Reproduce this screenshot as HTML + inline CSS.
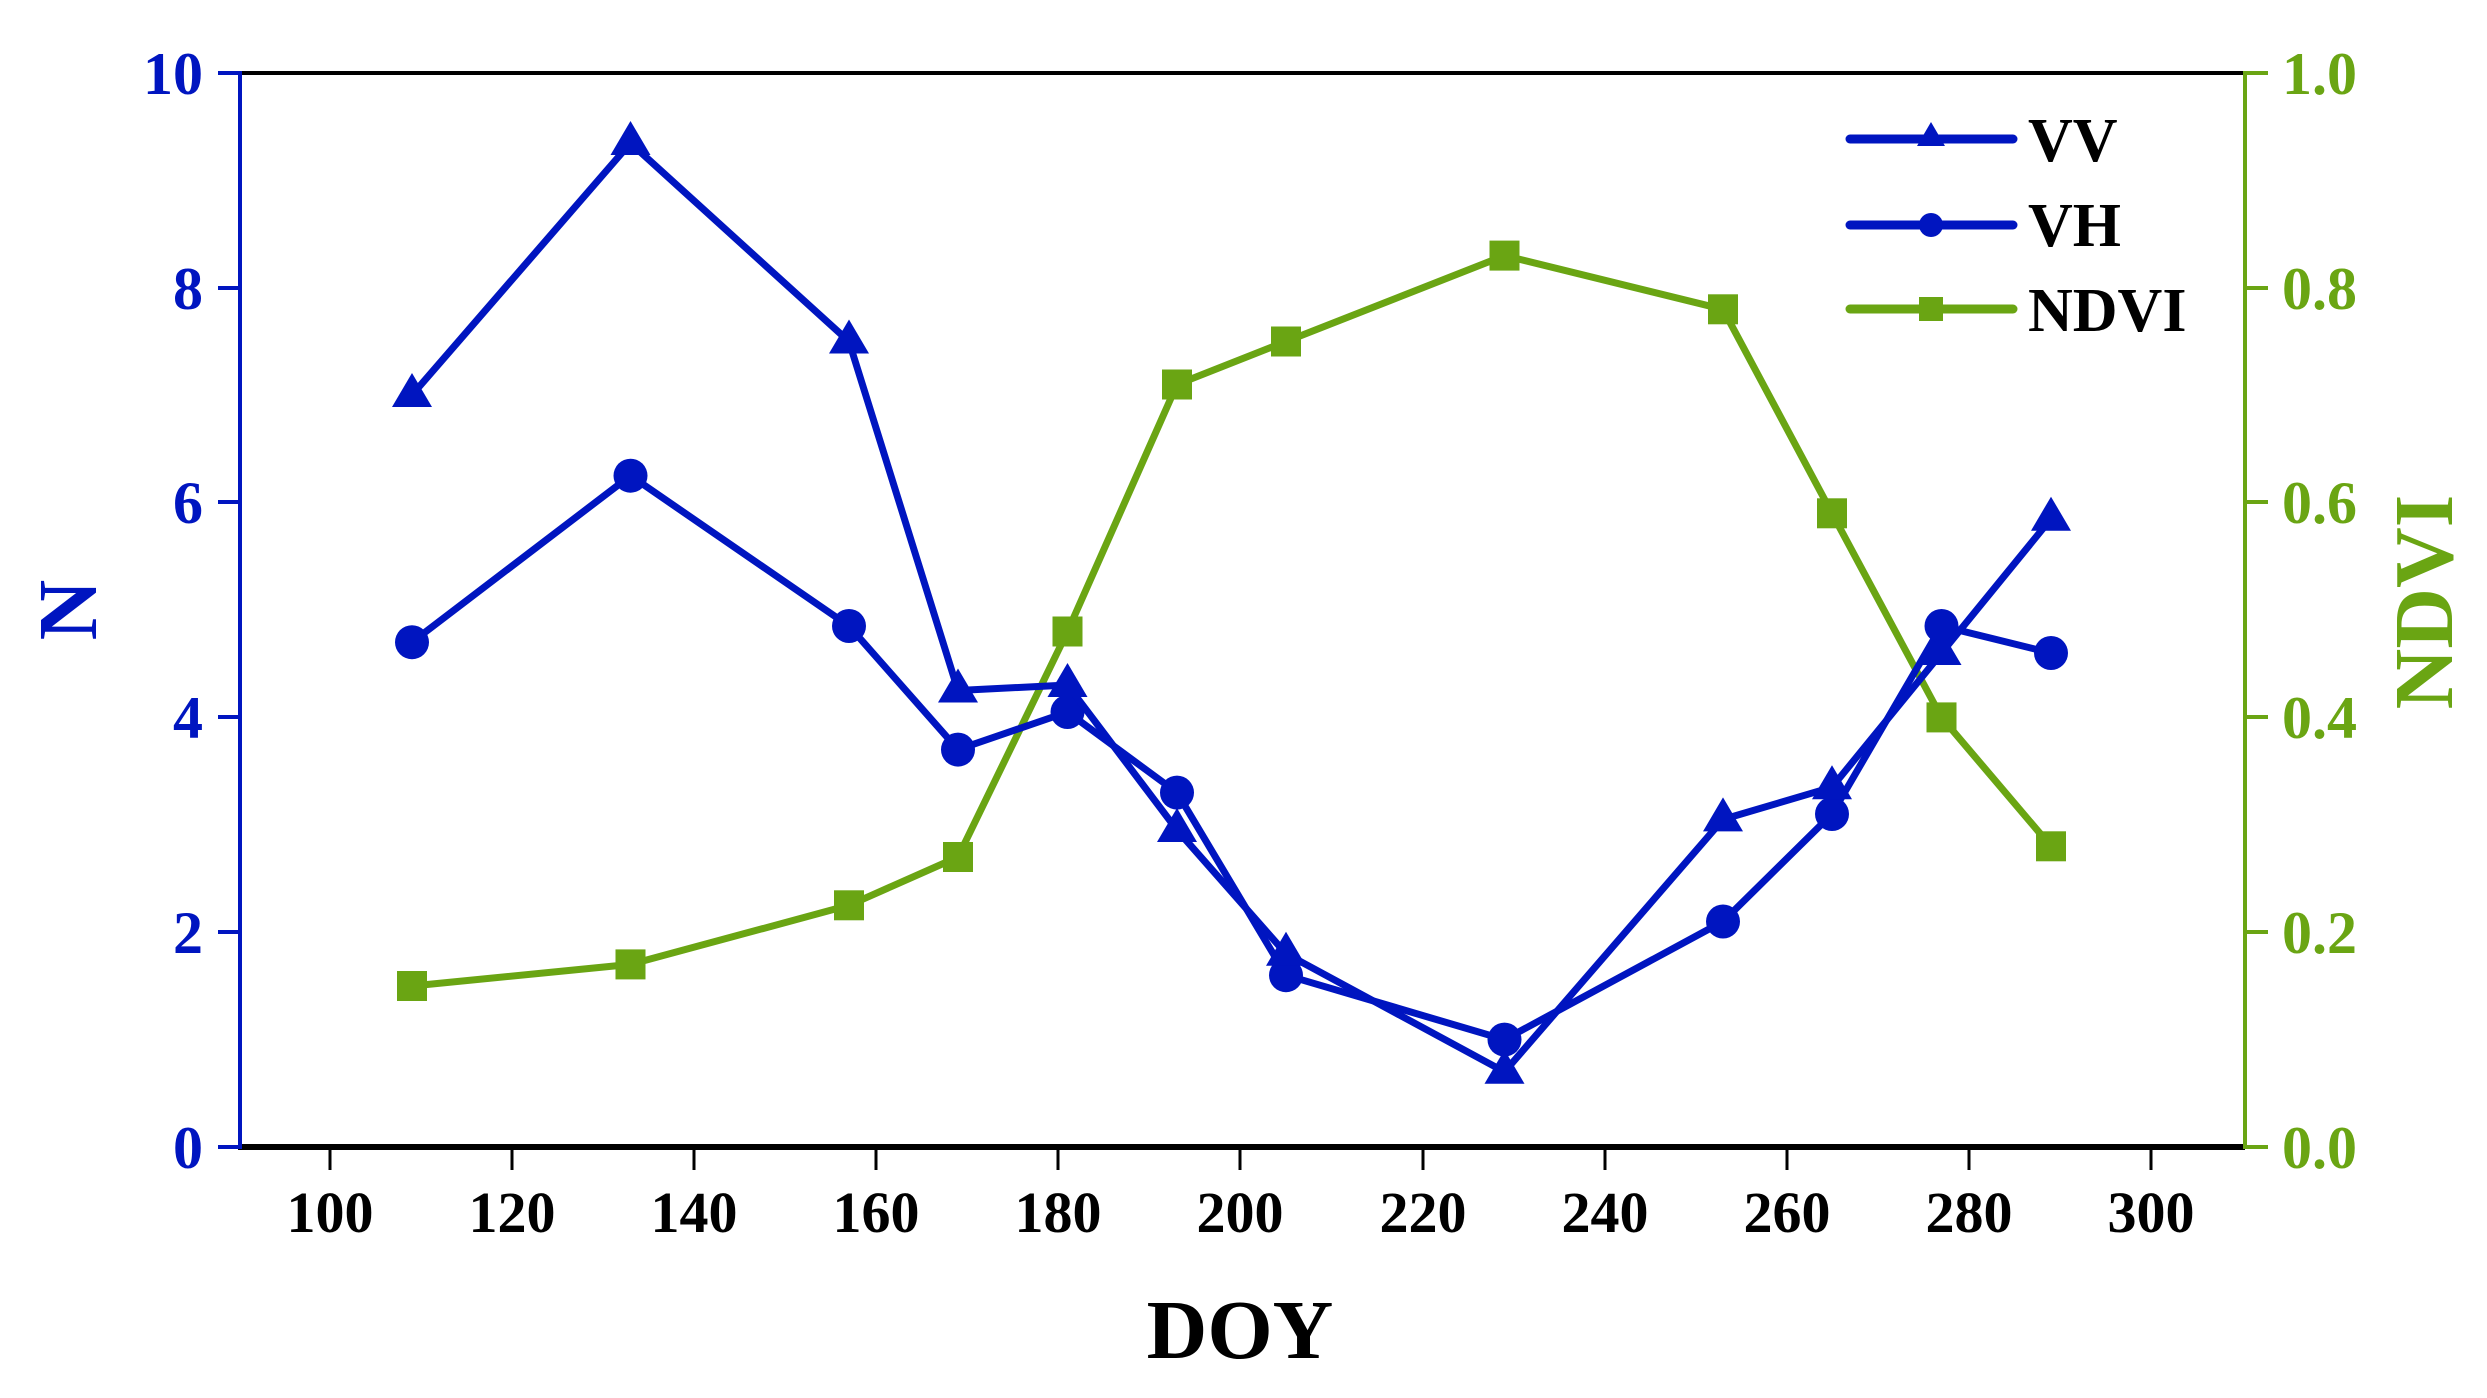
<!DOCTYPE html>
<html><head><meta charset="utf-8"><style>html,body{margin:0;padding:0;background:#fff}svg{display:block}</style></head>
<body>
<svg width="2487" height="1398" viewBox="0 0 2487 1398" xmlns="http://www.w3.org/2000/svg" font-family="Liberation Serif, serif" font-weight="bold">
<defs>
<path id="tri" d="M0,-22 L20,12 L-20,12 Z" fill="#0015C0"/>
</defs>
<line x1="238" y1="73" x2="2245" y2="73" stroke="#000" stroke-width="4"/>
<line x1="238" y1="1147" x2="2245" y2="1147" stroke="#000" stroke-width="6"/>
<line x1="240" y1="71" x2="240" y2="1149" stroke="#0015C0" stroke-width="4"/>
<line x1="2245" y1="71" x2="2245" y2="1149" stroke="#6AA513" stroke-width="4"/>
<g stroke="#0015C0" stroke-width="4">
<line x1="218" y1="73" x2="240" y2="73"/><line x1="218" y1="288" x2="240" y2="288"/><line x1="218" y1="502" x2="240" y2="502"/><line x1="218" y1="717" x2="240" y2="717"/><line x1="218" y1="932" x2="240" y2="932"/><line x1="218" y1="1147" x2="240" y2="1147"/>
</g>
<g fill="#0015C0" font-size="60" text-anchor="end">
<text x="203" y="94">10</text><text x="203" y="309">8</text><text x="203" y="523">6</text><text x="203" y="738">4</text><text x="203" y="953">2</text><text x="203" y="1168">0</text>
</g>
<g stroke="#6AA513" stroke-width="4">
<line x1="2245" y1="73" x2="2268" y2="73"/><line x1="2245" y1="288" x2="2268" y2="288"/><line x1="2245" y1="502" x2="2268" y2="502"/><line x1="2245" y1="717" x2="2268" y2="717"/><line x1="2245" y1="932" x2="2268" y2="932"/><line x1="2245" y1="1147" x2="2268" y2="1147"/>
</g>
<g fill="#6AA513" font-size="60">
<text x="2282" y="94">1.0</text><text x="2282" y="309">0.8</text><text x="2282" y="523">0.6</text><text x="2282" y="738">0.4</text><text x="2282" y="953">0.2</text><text x="2282" y="1168">0.0</text>
</g>
<g stroke="#000" stroke-width="3">
<line x1="330" y1="1147" x2="330" y2="1170"/><line x1="512" y1="1147" x2="512" y2="1170"/><line x1="694" y1="1147" x2="694" y2="1170"/><line x1="876" y1="1147" x2="876" y2="1170"/><line x1="1058" y1="1147" x2="1058" y2="1170"/><line x1="1240" y1="1147" x2="1240" y2="1170"/><line x1="1423" y1="1147" x2="1423" y2="1170"/><line x1="1605" y1="1147" x2="1605" y2="1170"/><line x1="1787" y1="1147" x2="1787" y2="1170"/><line x1="1969" y1="1147" x2="1969" y2="1170"/><line x1="2151" y1="1147" x2="2151" y2="1170"/>
</g>
<g fill="#000" font-size="58" text-anchor="middle">
<text x="330" y="1232">100</text><text x="512" y="1232">120</text><text x="694" y="1232">140</text><text x="876" y="1232">160</text><text x="1058" y="1232">180</text><text x="1240" y="1232">200</text><text x="1423" y="1232">220</text><text x="1605" y="1232">240</text><text x="1787" y="1232">260</text><text x="1969" y="1232">280</text><text x="2151" y="1232">300</text>
</g>
<text x="1240" y="1358" font-size="84" text-anchor="middle" fill="#000">DOY</text>
<text transform="translate(96,610) rotate(-90)" font-size="84" text-anchor="middle" fill="#0015C0">N</text>
<text transform="translate(2452,602) rotate(-90)" font-size="84" text-anchor="middle" fill="#6AA513">NDVI</text>
<polyline fill="none" stroke="#6AA513" stroke-width="7" stroke-linejoin="round" points="412,986 630.5,964.4 849,905.3 958,857 1067.5,631.5 1177,384.5 1286,341.5 1504.5,255.6 1723,309.3 1832,513.3 1941.5,717.4 2051,846.3"/>
<g fill="#6AA513">
<rect x="397" y="971" width="30" height="30"/><rect x="615.5" y="949.4" width="30" height="30"/><rect x="834" y="890.3" width="30" height="30"/><rect x="943" y="842" width="30" height="30"/><rect x="1052.5" y="616.5" width="30" height="30"/><rect x="1162" y="369.5" width="30" height="30"/><rect x="1271" y="326.5" width="30" height="30"/><rect x="1489.5" y="240.6" width="30" height="30"/><rect x="1708" y="294.3" width="30" height="30"/><rect x="1817" y="498.3" width="30" height="30"/><rect x="1926.5" y="702.4" width="30" height="30"/><rect x="2036" y="831.3" width="30" height="30"/>
</g>
<polyline fill="none" stroke="#0015C0" stroke-width="7" stroke-linejoin="round" points="412,642.2 630.5,475.7 849,626 958,749.6 1067.5,712 1177,792.6 1286,975.2 1504.5,1039.6 1723,921.5 1832,814 1941.5,626 2051,653"/>
<g fill="#0015C0">
<circle cx="412" cy="642.2" r="17"/><circle cx="630.5" cy="475.7" r="17"/><circle cx="849" cy="626" r="17"/><circle cx="958" cy="749.6" r="17"/><circle cx="1067.5" cy="712" r="17"/><circle cx="1177" cy="792.6" r="17"/><circle cx="1286" cy="975.2" r="17"/><circle cx="1504.5" cy="1039.6" r="17"/><circle cx="1723" cy="921.5" r="17"/><circle cx="1832" cy="814" r="17"/><circle cx="1941.5" cy="626" r="17"/><circle cx="2051" cy="653" r="17"/>
</g>
<polyline fill="none" stroke="#0015C0" stroke-width="7" stroke-linejoin="round" points="412,395 630.5,143 849,341.5 958,690.5 1067.5,685 1177,830 1286,953.7 1504.5,1071.8 1723,819.4 1832,787.2 1941.5,653 2051,518.7"/>
<use href="#tri" x="412" y="395"/><use href="#tri" x="630.5" y="143"/><use href="#tri" x="849" y="341.5"/><use href="#tri" x="958" y="690.5"/><use href="#tri" x="1067.5" y="685"/><use href="#tri" x="1177" y="830"/><use href="#tri" x="1286" y="953.7"/><use href="#tri" x="1504.5" y="1071.8"/><use href="#tri" x="1723" y="819.4"/><use href="#tri" x="1832" y="787.2"/><use href="#tri" x="1941.5" y="653"/><use href="#tri" x="2051" y="518.7"/>
<line x1="1850" y1="139" x2="2013" y2="139" stroke="#0015C0" stroke-width="9" stroke-linecap="round"/>
<path d="M1931,122 L1945,146 L1917,146 Z" fill="#0015C0"/>
<line x1="1850" y1="225" x2="2013" y2="225" stroke="#0015C0" stroke-width="9" stroke-linecap="round"/>
<circle cx="1931" cy="225" r="12" fill="#0015C0"/>
<line x1="1850" y1="309" x2="2013" y2="309" stroke="#6AA513" stroke-width="9" stroke-linecap="round"/>
<rect x="1919" y="297" width="24" height="24" fill="#6AA513"/>
<g fill="#000" font-size="62">
<text x="2028" y="161">VV</text><text x="2028" y="246">VH</text><text x="2028" y="331">NDVI</text>
</g>
</svg>
</body></html>
